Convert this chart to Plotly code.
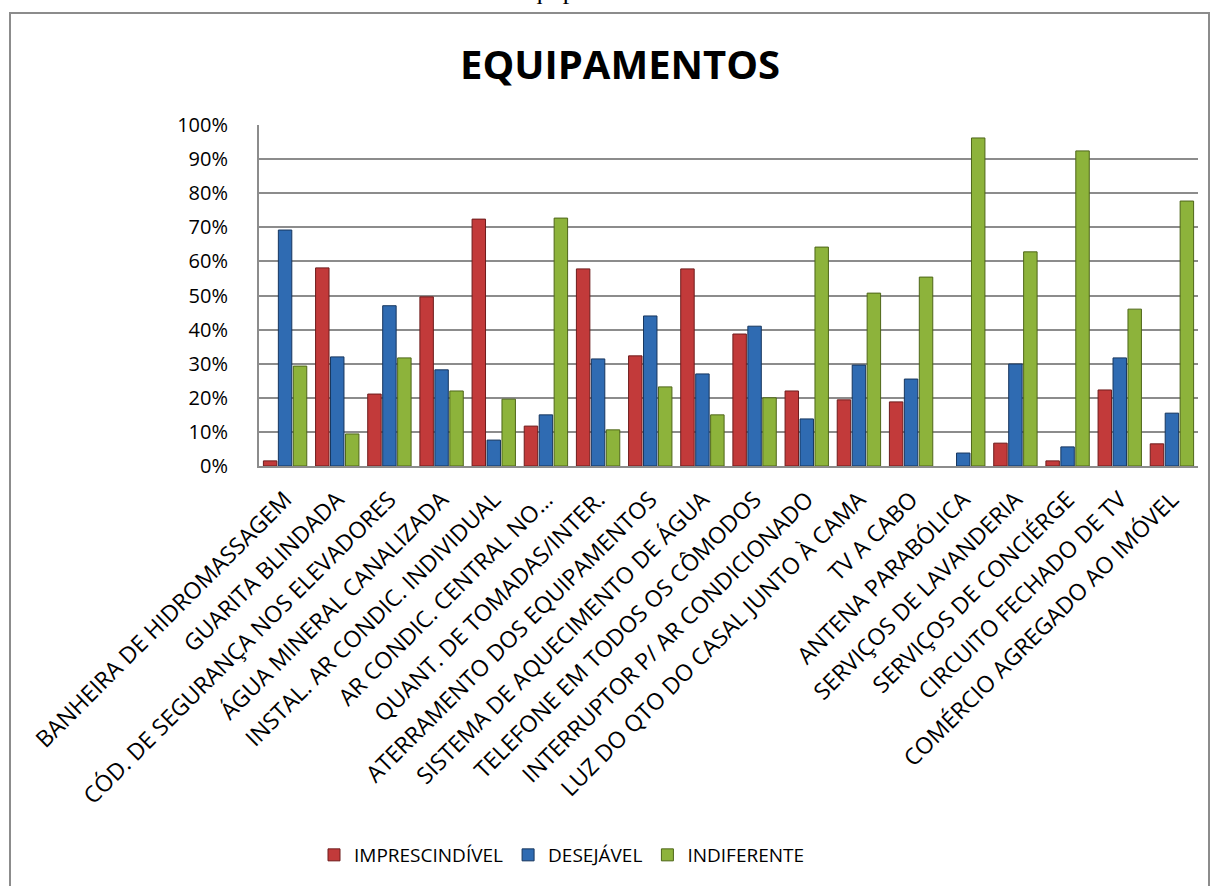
import plotly.graph_objects as go

categories = [
    "BANHEIRA DE HIDROMASSAGEM",
    "GUARITA BLINDADA",
    "CÓD. DE SEGURANÇA NOS ELEVADORES",
    "ÁGUA MINERAL CANALIZADA",
    "INSTAL. AR CONDIC. INDIVIDUAL",
    "AR CONDIC. CENTRAL NO…",
    "QUANT. DE TOMADAS/INTER.",
    "ATERRAMENTO DOS EQUIPAMENTOS",
    "SISTEMA DE AQUECIMENTO DE ÁGUA",
    "TELEFONE EM TODOS OS CÔMODOS",
    "INTERRUPTOR P/ AR CONDICIONADO",
    "LUZ DO QTO DO CASAL JUNTO À CAMA",
    "TV A CABO",
    "ANTENA PARABÓLICA",
    "SERVIÇOS DE LAVANDERIA",
    "SERVIÇOS DE CONCIÉRGE",
    "CIRCUITO FECHADO DE TV",
    "COMÉRCIO AGREGADO AO IMÓVEL",
]

imprescindivel = [0.015, 0.581, 0.211, 0.496, 0.724, 0.117, 0.578, 0.323, 0.578, 0.387,
                  0.220, 0.194, 0.188, 0.0, 0.067, 0.015, 0.223, 0.065]
desejavel = [0.692, 0.320, 0.470, 0.282, 0.076, 0.150, 0.314, 0.440, 0.270, 0.410,
             0.138, 0.296, 0.255, 0.038, 0.299, 0.056, 0.317, 0.155]
indiferente = [0.293, 0.094, 0.317, 0.220, 0.196, 0.727, 0.106, 0.232, 0.150, 0.200,
               0.642, 0.507, 0.554, 0.962, 0.628, 0.924, 0.460, 0.777]

series_names = ["IMPRESCINDÍVEL", "DESEJÁVEL", "INDIFERENTE"]
series_values = [imprescindivel, desejavel, indiferente]
series_colors = ["#C23A3A", "#2F6BB2", "#8DB33B"]
series_edges = ["#6E1C1C", "#17365E", "#4E6619"]

caption = "Gráfico 17: Equipamentos do Imóvel"
title = "EQUIPAMENTOS"

W, H = 1212, 886
L, R, T, B = 259, 1198, 125, 466


def px(x):
    return (x - L) / (R - L)


def py(y):
    return (B - y) / (B - T)


fig = go.Figure()
for name, vals, col, edge in zip(series_names, series_values, series_colors, series_edges):
    fig.add_trace(go.Bar(
        x=categories, y=vals, name=name,
        marker=dict(color=col, line=dict(color=edge, width=[1 if v > 0 else 0 for v in vals])),
    ))

grid = "#8c8c8c"
fig.update_layout(
    width=W, height=H,
    margin=dict(l=L, r=W - R, t=T, b=H - B),
    paper_bgcolor="white", plot_bgcolor="white",
    barmode="group", bargap=0.14, bargroupgap=0.1,
    font=dict(family="Open Sans", color="#000000"),
    showlegend=True,
    legend=dict(orientation="h", x=px(562), xanchor="center", y=py(855), yanchor="middle",
                font=dict(size=19, family="Open Sans", color="#000"),
                traceorder="normal", itemwidth=30),
    xaxis=dict(tickangle=-45, tickfont=dict(size=23, family="Open Sans", color="#000"),
               showline=True, linecolor=grid, linewidth=2, ticks="", automargin=False,
               ticklabelstandoff=9),
    yaxis=dict(range=[0, 1], dtick=0.1, tickformat=".0%", showgrid=True, gridcolor=grid,
               gridwidth=1.5, showline=True, linecolor=grid, linewidth=2, ticks="",
               ticklabelstandoff=25, zeroline=False,
               tickfont=dict(size=20, family="Open Sans", color="#000"), automargin=False),
    annotations=[
        dict(text="<b>" + title + "</b>", xref="paper", yref="paper", x=px(620), y=py(64),
             xanchor="center", yanchor="middle", showarrow=False,
             font=dict(size=40, family="Open Sans", color="#000")),
        dict(text=caption, xref="paper", yref="paper",
             x=px(581), y=py(7), xanchor="center", yanchor="bottom", showarrow=False,
             font=dict(size=26, family="Liberation Serif", color="#000")),
    ],
    shapes=[
        dict(type="rect", xref="paper", yref="paper", x0=px(10), x1=px(1209), y0=py(895), y1=py(13),
             line=dict(color="#8c8c8c", width=2), fillcolor="rgba(0,0,0,0)", layer="below"),
    ],
)

fig.write_html("out.html", config={"displayModeBar": False},
               post_script="document.body.style.margin='0px';")
